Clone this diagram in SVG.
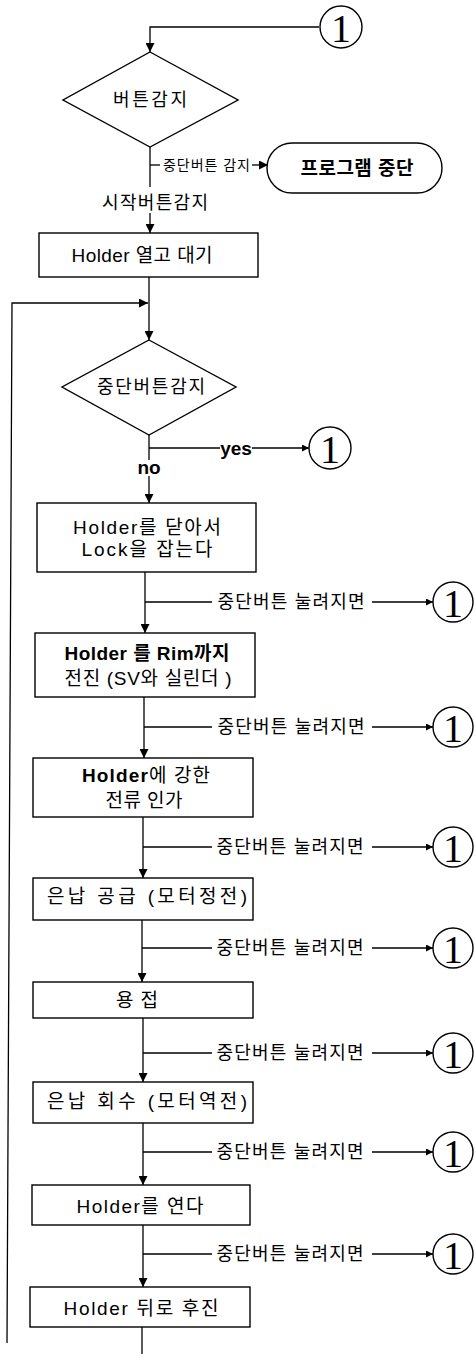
<svg xmlns="http://www.w3.org/2000/svg" width="475" height="1354" viewBox="0 0 475 1354">
<defs>
<marker id="arr" viewBox="0 0 10 10" refX="10" refY="5" markerWidth="10" markerHeight="9" markerUnits="userSpaceOnUse" orient="auto">
<path d="M0,0 L10,5 L0,10 Z" fill="#000"/>
</marker>
<marker id="arrs" viewBox="0 0 10 10" refX="10" refY="5" markerWidth="8" markerHeight="7" markerUnits="userSpaceOnUse" orient="auto">
<path d="M0,0 L10,5 L0,10 Z" fill="#000"/>
</marker>
</defs>
<style>
.s{fill:#fff;stroke:#000;stroke-width:1.4}
.l{fill:none;stroke:#000;stroke-width:1.3}
.t{font-family:"Liberation Sans","Noto Sans CJK KR",sans-serif;font-size:19px;fill:#000;text-anchor:middle;dominant-baseline:central}
.b{font-weight:bold}
.br{font-size:18px}
.sm{font-size:14px;text-anchor:start}
.c{font-family:"Liberation Serif","Noto Serif",serif;font-size:40px;fill:#000;text-anchor:middle;dominant-baseline:central}
</style>
<rect width="475" height="1354" fill="#fff"/>
<g id="connectors">
<path class="l" d="M319,27 H150 V52" marker-end="url(#arr)"/>
<path class="l" d="M150,147 V187"/>
<path class="l" d="M150,165 H160"/>
<path class="l" d="M252,165 H268" marker-end="url(#arr)"/>
<path class="l" d="M150,213 V233" marker-end="url(#arr)"/>
<path class="l" d="M149,277 V340" marker-end="url(#arr)"/>
<path class="l" d="M7,1343 L12,303 H148" marker-end="url(#arr)"/>
<path class="l" d="M149,435 V460"/>
<path class="l" d="M149,448 H220"/>
<path class="l" d="M252,448 H309" marker-end="url(#arrs)"/>
<path class="l" d="M149,476 V503" marker-end="url(#arr)"/>
<path class="l" d="M145,572 V633" marker-end="url(#arr)"/>
<path class="l" d="M144,697 V758" marker-end="url(#arr)"/>
<path class="l" d="M143,817 V878" marker-end="url(#arr)"/>
<path class="l" d="M142,920 V982" marker-end="url(#arr)"/>
<path class="l" d="M143,1018 V1082" marker-end="url(#arr)"/>
<path class="l" d="M143,1123 V1185" marker-end="url(#arr)"/>
<path class="l" d="M143,1225 V1287" marker-end="url(#arr)"/>
<path class="l" d="M142,1327 V1354"/>
<path class="l" d="M145,602 H212 M372,602 H433" marker-end="url(#arrs)"/>
<path class="l" d="M144,727 H212 M372,727 H433" marker-end="url(#arrs)"/>
<path class="l" d="M143,847 H212 M372,847 H433" marker-end="url(#arrs)"/>
<path class="l" d="M142,948 H212 M372,948 H433" marker-end="url(#arrs)"/>
<path class="l" d="M143,1053 H212 M372,1053 H433" marker-end="url(#arrs)"/>
<path class="l" d="M143,1152 H212 M372,1152 H433" marker-end="url(#arrs)"/>
<path class="l" d="M143,1254 H212 M372,1254 H433" marker-end="url(#arrs)"/>
<text class="t sm" x="163" y="165" textLength="87" lengthAdjust="spacing">중단버튼 감지</text>
<text class="t br" x="155" y="203" textLength="106" lengthAdjust="spacing">시작버튼감지</text>
<text class="t b" x="236" y="448" font-size="14">yes</text>
<text class="t b" x="149" y="467" font-size="14">no</text>
<text class="t br" x="291" y="602" textLength="147" lengthAdjust="spacing">중단버튼 눌려지면</text>
<text class="t br" x="291" y="727" textLength="147" lengthAdjust="spacing">중단버튼 눌려지면</text>
<text class="t br" x="290" y="847" textLength="147" lengthAdjust="spacing">중단버튼 눌려지면</text>
<text class="t br" x="290" y="948" textLength="147" lengthAdjust="spacing">중단버튼 눌려지면</text>
<text class="t br" x="290" y="1053" textLength="147" lengthAdjust="spacing">중단버튼 눌려지면</text>
<text class="t br" x="290" y="1152" textLength="147" lengthAdjust="spacing">중단버튼 눌려지면</text>
<text class="t br" x="290" y="1254" textLength="147" lengthAdjust="spacing">중단버튼 눌려지면</text>
</g>
<g id="c0"><circle class="s" cx="341" cy="27" r="21"/><text class="c" x="341" y="28">1</text></g>
<g id="d1"><polygon class="s" points="150,52 238,100 150,147 63,100"/><text class="t br" x="150" y="100" textLength="74" lengthAdjust="spacing">버튼감지</text></g>
<g id="end"><rect class="s" x="267" y="143" width="175" height="50" rx="25"/><text class="t b" x="357" y="168" font-size="17" textLength="113" lengthAdjust="spacing">프로그램 중단</text></g>
<g id="b1"><rect class="s" x="39" y="233" width="219" height="44"/><text class="t" x="142" y="255" textLength="141" lengthAdjust="spacing">Holder 열고 대기</text></g>
<g id="d2"><polygon class="s" points="149,340 236,387 149,435 62,387"/><text class="t br" x="151" y="387" textLength="108" lengthAdjust="spacing">중단버튼감지</text></g>
<g id="c1"><circle class="s" cx="330" cy="448" r="21"/><text class="c" x="330" y="449">1</text></g>
<g id="b2"><rect class="s" x="37" y="503" width="219" height="69"/><text class="t" x="147" y="527" textLength="148" lengthAdjust="spacing">Holder를 닫아서</text><text class="t" x="147" y="549" textLength="131" lengthAdjust="spacing">Lock을 잡는다</text></g>
<g id="c2"><circle class="s" cx="453" cy="602" r="20"/><text class="c" x="453" y="603">1</text></g>
<g id="b3"><rect class="s" x="35" y="633" width="220" height="64"/><text class="t b" x="147" y="653" textLength="165" lengthAdjust="spacing">Holder 를 Rim까지</text><text class="t" x="148" y="678" textLength="167" lengthAdjust="spacing">전진 (SV와 실린더 )</text></g>
<g id="c3"><circle class="s" cx="453" cy="727" r="20"/><text class="c" x="453" y="728">1</text></g>
<g id="b4"><rect class="s" x="33" y="758" width="220" height="59"/><text class="t" x="146" y="775" textLength="128" lengthAdjust="spacing"><tspan font-weight="bold">Holder</tspan>에 강한</text><text class="t" x="144" y="800" textLength="77" lengthAdjust="spacing">전류 인가</text></g>
<g id="c4"><circle class="s" cx="453" cy="847" r="20"/><text class="c" x="453" y="848">1</text></g>
<g id="b5"><rect class="s" x="33" y="878" width="220" height="42"/><text class="t" x="147" y="896" textLength="200" lengthAdjust="spacing">은납 공급 (모터정전)</text></g>
<g id="c5"><circle class="s" cx="453" cy="948" r="20"/><text class="c" x="453" y="949">1</text></g>
<g id="b6"><rect class="s" x="33" y="982" width="220" height="36"/><text class="t" x="137" y="1000" textLength="42" lengthAdjust="spacing">용접</text></g>
<g id="c6"><circle class="s" cx="453" cy="1053" r="20"/><text class="c" x="453" y="1054">1</text></g>
<g id="b7"><rect class="s" x="33" y="1082" width="220" height="41"/><text class="t" x="147" y="1101" textLength="200" lengthAdjust="spacing">은납 회수 (모터역전)</text></g>
<g id="c7"><circle class="s" cx="453" cy="1152" r="20"/><text class="c" x="453" y="1153">1</text></g>
<g id="b8"><rect class="s" x="32" y="1185" width="218" height="40"/><text class="t" x="140" y="1206" textLength="127" lengthAdjust="spacing">Holder를 연다</text></g>
<g id="c8"><circle class="s" cx="453" cy="1254" r="20"/><text class="c" x="453" y="1255">1</text></g>
<g id="b9"><rect class="s" x="30" y="1287" width="220" height="40"/><text class="t" x="141" y="1308" textLength="155" lengthAdjust="spacing">Holder 뒤로 후진</text></g>
</svg>
